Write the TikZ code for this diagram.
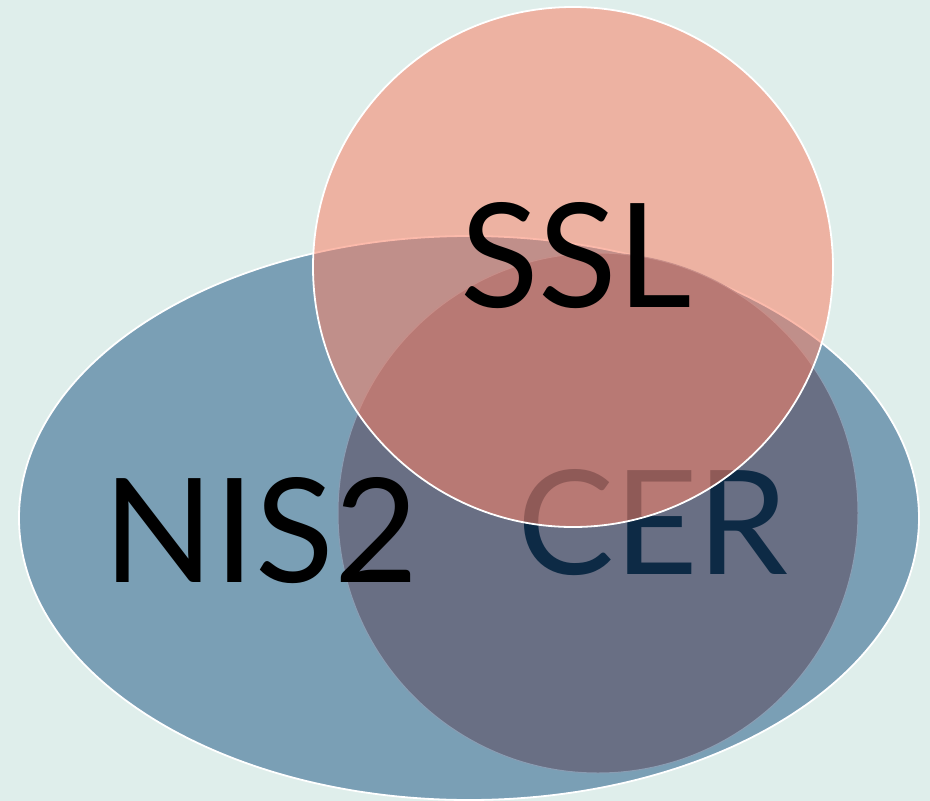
\documentclass[tikz,border=0pt]{standalone}
\usepackage{fontspec}
\setmainfont{Lato}
\definecolor{bgc}{HTML}{DFEEEB}
\definecolor{nisc}{HTML}{7A9FB5}
\definecolor{cerc}{HTML}{696F84}
\definecolor{cerline}{HTML}{8A9DB3}
\definecolor{sslc}{HTML}{FA8267}
\definecolor{certext}{HTML}{0D2A45}
\tikzset{
  lbl/.style={font=\fontsize{145}{150}\selectfont, inner sep=0pt, anchor=base},
}
\begin{document}
\begin{tikzpicture}[x=1pt,y=-1pt]
\fill[bgc] (0,0) rectangle (930,801);
\useasboundingbox (0,0) rectangle (930,801);
\draw[white, line width=1.8pt, fill=nisc] (469,518) ellipse [x radius=450, y radius=282];
\draw[cerline, line width=1pt, fill=cerc] (598,513) circle [radius=260];
\node[lbl, text=black] (nis) at (261,582) {NIS2};
\node[lbl, text=certext] (cer) at (653,574) {CER};
\draw[white, line width=1.8pt, fill=sslc, fill opacity=0.55] (573,267) circle [radius=260];
\node[lbl, text=black] (ssl) at (576,307) {SSL};
\end{tikzpicture}
\end{document}
